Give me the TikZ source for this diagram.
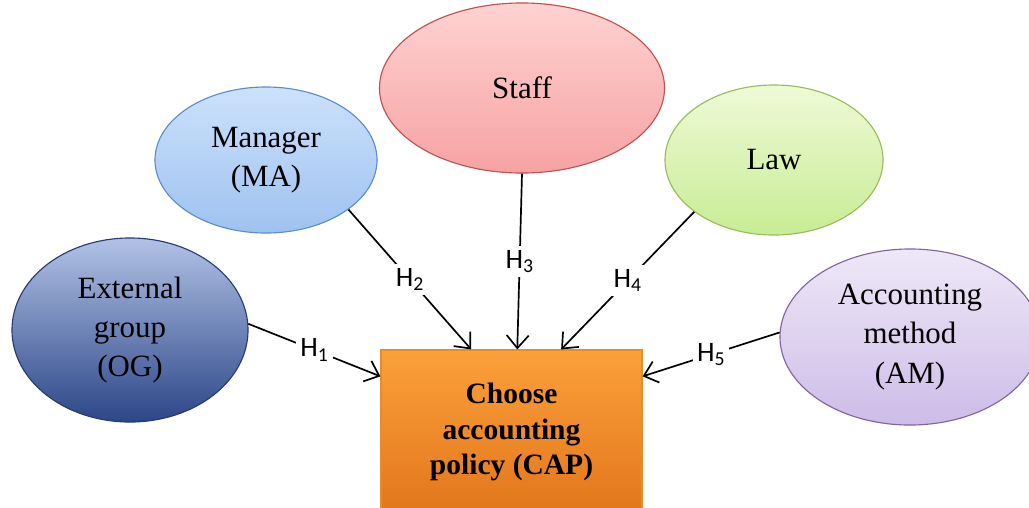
\documentclass[tikz,border=0pt]{standalone}
\usepackage{fontspec}
\setmainfont{Liberation Serif}
\newfontfamily\hfont{Carlito}
\usetikzlibrary{shapes.geometric,arrows.meta}
\definecolor{ogtop}{RGB}{178,194,230}
\definecolor{ogbot}{RGB}{44,70,135}
\definecolor{ogline}{RGB}{38,58,115}
\definecolor{matop}{RGB}{204,225,251}
\definecolor{mabot}{RGB}{158,194,240}
\definecolor{maline}{RGB}{92,140,208}
\definecolor{sttop}{RGB}{255,210,210}
\definecolor{stbot}{RGB}{246,162,162}
\definecolor{stline}{RGB}{192,80,77}
\definecolor{lwtop}{RGB}{238,250,215}
\definecolor{lwbot}{RGB}{200,236,148}
\definecolor{lwline}{RGB}{155,187,89}
\definecolor{amtop}{RGB}{238,232,247}
\definecolor{ambot}{RGB}{205,188,232}
\definecolor{amline}{RGB}{128,100,162}
\definecolor{captop}{RGB}{251,160,58}
\definecolor{capbot}{RGB}{226,118,28}
\definecolor{capline}{RGB}{232,140,40}
\begin{document}
\begin{tikzpicture}[x=0.025cm,y=-0.025cm,
    bubble/.style={ellipse,draw,line width=0.8pt,align=center,
        font=\fontsize{22}{28}\selectfont},
    link/.style={line width=1.2pt,-{Straight Barb[length=3.2mm,width=5.5mm]}},
    hyp/.style={fill=white,inner sep=3pt,font=\hfont\fontsize{20}{20}\selectfont}]
    \useasboundingbox (0,0) rectangle (1029,507);
    \clip (0,0) rectangle (1029,507);
    \node[bubble,draw=ogline,top color=ogtop,bottom color=ogbot,
        minimum width=5.9cm,minimum height=4.6cm] (og) at (130,330)
        {External\\group\\(OG)};
    \node[bubble,draw=maline,top color=matop,bottom color=mabot,
        minimum width=5.55cm,minimum height=3.65cm] (ma) at (266,160)
        {Manager\\(MA)};
    \node[bubble,draw=stline,top color=sttop,bottom color=stbot,
        minimum width=7.125cm,minimum height=4.25cm] (staff) at (522,88)
        {Staff};
    \node[bubble,draw=lwline,top color=lwtop,bottom color=lwbot,
        minimum width=5.45cm,minimum height=3.75cm] (law) at (774,160)
        {Law};
    \node[bubble,draw=amline,top color=amtop,bottom color=ambot,
        minimum width=6.5cm,minimum height=4.4cm] (am) at (910,337)
        {Accounting\\method\\(AM)};
    \node[draw=capline,line width=0.8pt,top color=captop,bottom color=capbot,
        minimum width=6.525cm,minimum height=4.1cm,align=center,
        font=\bfseries\fontsize{21}{25}\selectfont] (cap) at (511.5,432)
        {Choose\\accounting\\policy (CAP)};
    \foreach \a/\b/\n in {og.3/cap.157/1,ma.-31/cap.116/2,staff.south/cap.86/3,
        law.213/cap.59/4,am.178/cap.23/5}
        \draw[link] (\a) -- node[hyp]{H\textsubscript{\n}} (\b);
\end{tikzpicture}
\end{document}
